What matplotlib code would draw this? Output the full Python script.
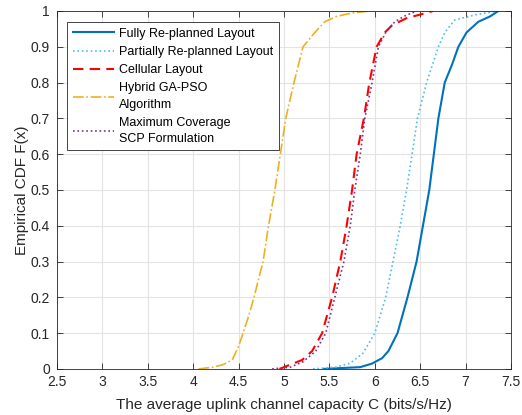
import matplotlib.pyplot as plt

plt.rcParams['font.family'] = ['Liberation Sans', 'DejaVu Sans']

# CDF levels and capacity values
full_p = [0, 0.005, 0.015, 0.03, 0.05, 0.1, 0.2, 0.3, 0.4, 0.5, 0.6, 0.7, 0.8, 0.85, 0.9, 0.94, 0.97, 0.985, 1.0]
full_c = [5.43, 5.84, 5.97, 6.08, 6.15, 6.25, 6.36, 6.46, 6.53, 6.60, 6.65, 6.70, 6.77, 6.85, 6.92, 7.01, 7.14, 7.27, 7.36]

part_p = [0, 0.005, 0.016, 0.044, 0.1, 0.2, 0.3, 0.4, 0.5, 0.6, 0.7, 0.8, 0.9, 0.94, 0.975, 0.99, 1.0]
part_c = [5.32, 5.57, 5.73, 5.87, 6.0, 6.12, 6.20, 6.28, 6.35, 6.41, 6.47, 6.57, 6.70, 6.77, 6.88, 7.12, 7.35]

cell_p = [0, 0.005, 0.025, 0.05, 0.1, 0.2, 0.3, 0.4, 0.5, 0.6, 0.7, 0.8, 0.9, 0.94, 0.96, 0.98, 0.99, 1.0]
cell_c = [4.95, 5.0, 5.20, 5.31, 5.42, 5.53, 5.62, 5.69, 5.75, 5.80, 5.88, 5.94, 6.02, 6.11, 6.19, 6.35, 6.50, 6.64]

ga_p = [0, 0.005, 0.012, 0.025, 0.063, 0.1, 0.155, 0.2, 0.3, 0.4, 0.5, 0.6, 0.7, 0.8, 0.9, 0.94, 0.97, 0.985, 0.995, 1.0]
ga_c = [4.06, 4.22, 4.33, 4.43, 4.50, 4.55, 4.62, 4.67, 4.77, 4.83, 4.90, 4.96, 5.02, 5.11, 5.21, 5.34, 5.45, 5.58, 5.76, 5.95]

scp_p = [0, 0.005, 0.02, 0.05, 0.1, 0.2, 0.3, 0.4, 0.5, 0.6, 0.7, 0.8, 0.9, 0.94, 0.97, 0.985, 1.0]
scp_c = [4.87, 5.07, 5.21, 5.35, 5.46, 5.56, 5.66, 5.73, 5.78, 5.84, 5.89, 5.97, 6.04, 6.12, 6.22, 6.32, 6.46]

labels = ['Fully Re-planned Layout', 'Partially Re-planned Layout', 'Cellular Layout',
          'Hybrid GA-PSO\nAlgorithm', 'Maximum Coverage\nSCP Formulation']

fig = plt.figure(figsize=(5.22, 4.15), dpi=100)
ax = fig.add_axes([0.109, 0.111, 0.870, 0.8625])

ax.plot(full_c, full_p, '-', color='#0072BD', lw=1.5, label=labels[0])
ax.plot(part_c, part_p, ':', color='#4DBEEE', lw=1.2, label=labels[1])
ax.plot(cell_c, cell_p, '--', color='#FF0000', lw=1.5, dashes=(5, 3), label=labels[2])
ax.plot(ga_c, ga_p, '-.', color='#EDB120', lw=1.2, label=labels[3])
ax.plot(scp_c, scp_p, ':', color='#7E2F8E', lw=1.2, label=labels[4])

ax.set_xlim(2.5, 7.5)
ax.set_ylim(0, 1)
ax.set_xticks([2.5, 3, 3.5, 4, 4.5, 5, 5.5, 6, 6.5, 7, 7.5])
ax.set_xticklabels(['2.5', '3', '3.5', '4', '4.5', '5', '5.5', '6', '6.5', '7', '7.5'])
ax.set_yticks([0, 0.1, 0.2, 0.3, 0.4, 0.5, 0.6, 0.7, 0.8, 0.9, 1])
ax.set_yticklabels(['0', '0.1', '0.2', '0.3', '0.4', '0.5', '0.6', '0.7', '0.8', '0.9', '1'])
ax.grid(True, color='#e3e3e3', lw=0.8)
ax.set_axisbelow(True)
ax.tick_params(direction='in', top=True, right=True, length=4, labelsize=10,
               colors='#262626', width=0.6)
ax.tick_params(axis='x', pad=4.5)
ax.tick_params(axis='y', pad=5)
for s in ax.spines.values():
    s.set_color('#262626')
    s.set_linewidth(0.6)

ax.set_xlabel('The average uplink channel capacity C (bits/s/Hz)', fontsize=11,
              color='#262626', labelpad=6)
ax.set_ylabel('Empirical CDF F(x)', fontsize=11, color='#262626', labelpad=1)

leg = ax.legend(loc='upper left', bbox_to_anchor=(0.022, 0.969), borderaxespad=0,
                fancybox=False, framealpha=1, edgecolor='#262626', fontsize=9,
                handlelength=3.3, handletextpad=0.4, labelspacing=0.5,
                borderpad=0.45)
leg.get_frame().set_linewidth(0.6)
for t in leg.get_texts():
    t.set_linespacing(1.45)

fig.savefig('out.png', dpi=100)
